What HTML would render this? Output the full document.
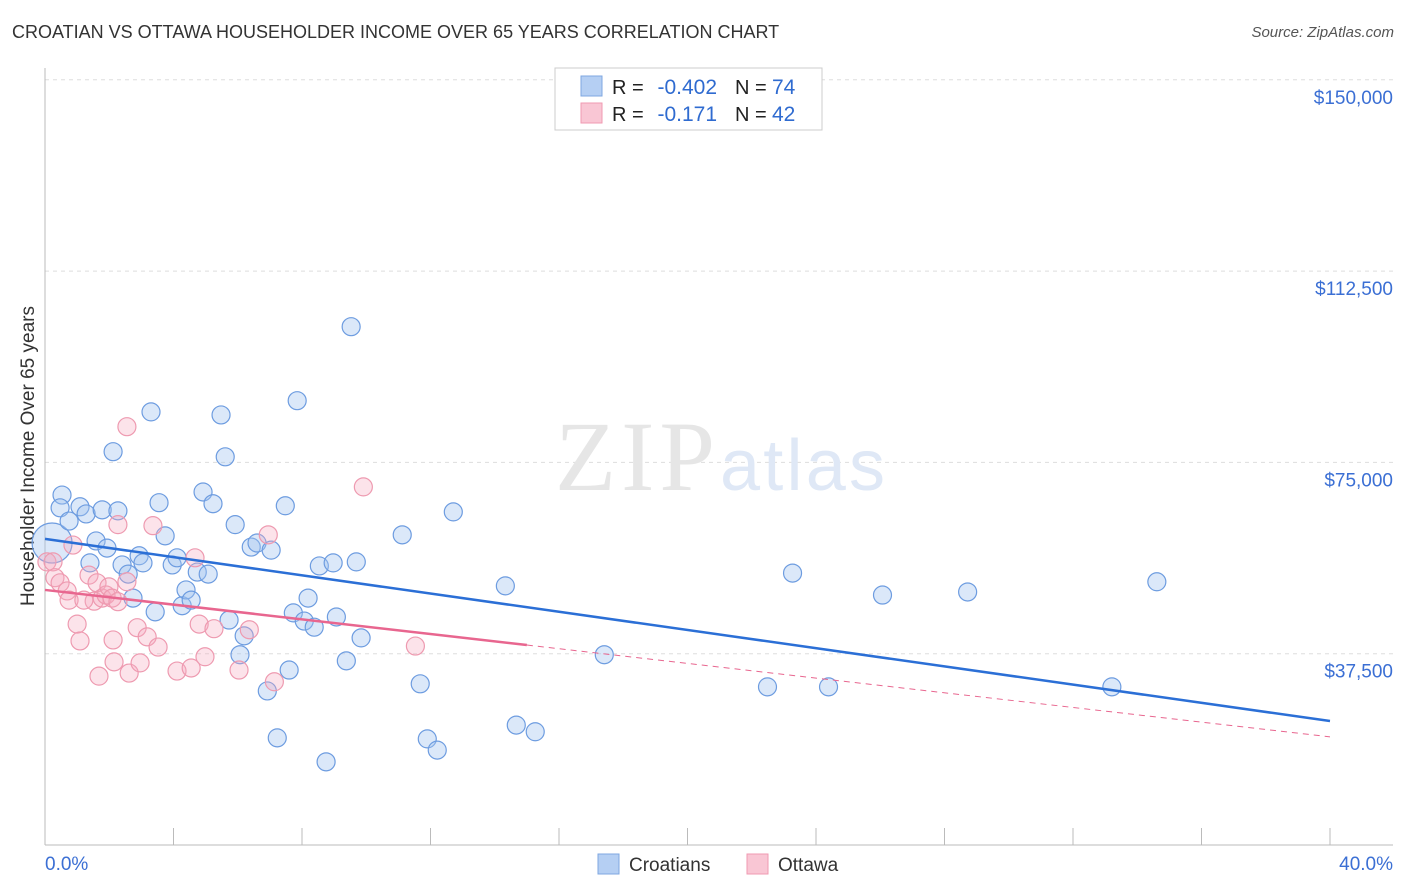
<!DOCTYPE html>
<html><head><meta charset="utf-8"><style>
body{margin:0;background:#fff;font-family:"Liberation Sans",sans-serif}
#wrap{position:relative;width:1406px;height:892px;overflow:hidden}
.t{position:absolute;white-space:nowrap}
</style></head><body>
<div id="wrap">
<div class="t" style="left:12px;top:22px;font-size:18px;color:#333">CROATIAN VS OTTAWA HOUSEHOLDER INCOME OVER 65 YEARS CORRELATION CHART</div>
<div class="t" style="right:12px;top:24px;font-size:15px;color:#555;font-style:italic">Source: ZipAtlas.com</div>
<svg id="svg" width="1406" height="892" style="position:absolute;left:0;top:0"></svg>
</div>
<script>
const blueX=[0.22,0.53,0.47,0.75,1.09,1.28,1.59,1.40,1.78,1.93,2.12,2.27,2.40,2.59,2.74,2.93,3.05,3.30,3.43,3.55,3.74,3.96,4.11,4.27,4.39,4.55,4.74,4.92,5.08,5.23,5.48,5.61,5.73,5.92,6.07,6.20,6.42,6.60,6.92,7.04,7.23,7.48,7.60,7.73,7.85,8.07,8.19,8.38,8.54,8.75,8.97,9.07,9.38,9.53,9.69,9.84,11.12,11.68,11.90,12.21,12.71,14.33,14.67,15.26,17.41,22.49,23.27,24.39,26.07,28.72,33.21,34.61];
const blueY=[59200,68600,66100,63500,66300,64900,59600,55300,65700,58200,77100,65500,54900,53100,48400,56700,55300,84900,45700,67100,60600,54900,56300,46900,50000,48000,53500,69200,53100,66900,84300,76100,44100,62800,37300,41000,58400,59200,30200,57800,21000,66500,34300,45500,87100,43900,48400,42700,54700,16300,55300,44700,36100,101600,55500,40600,60800,31600,20800,18600,65300,50800,23500,22200,37300,31000,53300,31000,49000,49600,31000,51600];
const pinkX=[0.06,0.25,0.31,0.47,0.69,0.75,0.87,1.00,1.09,1.37,1.53,1.62,1.68,1.78,1.90,1.99,2.12,2.15,2.27,2.55,2.62,2.87,2.96,3.18,3.36,3.52,4.11,4.55,4.67,4.80,4.98,5.26,6.04,6.36,6.95,7.14,9.91,11.53,2.09,1.21,2.55,2.27];
const pinkY=[55500,55500,52400,51400,49800,48000,58800,43300,40000,52900,47800,51400,33100,48400,49000,50600,40200,35900,62800,82000,33700,42600,35700,40800,62600,38800,34100,34700,56300,43300,36900,42400,34300,42200,60800,32000,70200,39000,48400,48000,51600,47700];
const yTicks=[150000,112500,75000,37500];
const yTickLabels=["$150,000","$112,500","$75,000","$37,500"];
const blueTrend=[60000,24300];
const pinkTrend=[50000,21200];
const pinkSolidEnd=15;
const NS="http://www.w3.org/2000/svg";
const svg=document.getElementById('svg');
const X=v=>45+v*(1285/40), Y=v=>845-v*(191.3/37500);
function el(tag,at,name){const e=document.createElementNS(NS,tag);for(const k in at)e.setAttribute(k,at[k]);


svg.appendChild(e);return e;}
yTicks.forEach((t,i)=>{
 el('line',{x1:45,x2:1393,y1:Y(t),y2:Y(t),stroke:'#ddd','stroke-dasharray':'4,4'},'gridline');
 const tx=el('text',{x:1393,y:Y(t)+24,'text-anchor':'end','font-size':19,fill:'#3b6fd4'},'y-tick-label');tx.textContent=yTickLabels[i];
});
el('line',{x1:45,x2:45,y1:68,y2:845,stroke:'#bbb'},'y-axis');
el('line',{x1:45,x2:1393,y1:845,y2:845,stroke:'#bbb'},'x-axis');
for(let i=1;i<=10;i++){el('line',{x1:X(i*4),x2:X(i*4),y1:828,y2:845,stroke:'#bbb'},'x-tick');}
let t=el('text',{x:45,y:870,'font-size':19,fill:'#3b6fd4'},'x-min-label');t.textContent='0.0%';
t=el('text',{x:1393,y:870,'text-anchor':'end','font-size':19,fill:'#3b6fd4'},'x-max-label');t.textContent='40.0%';
t=el('text',{x:0,y:0,'font-size':19,fill:'#333',transform:'translate(34,456) rotate(-90)','text-anchor':'middle'},'y-axis-title');t.textContent='Householder Income Over 65 years';
t=el('text',{x:555,y:490,'font-size':100,fill:'#e6e6e6','font-family':'Liberation Serif',textLength:160},'watermark-zip');t.textContent='ZIP';
t=el('text',{x:720,y:490,'font-size':72,fill:'#dfe8f6',textLength:165},'watermark-atlas');t.textContent='atlas';
blueX.forEach((x,i)=>{el('circle',{cx:X(x),cy:Y(blueY[i]),r:i===0?20:9,fill:'rgba(160,195,240,0.38)',stroke:'#6d9ce0','stroke-width':1.2},'croatians-point');});
pinkX.forEach((x,i)=>{el('circle',{cx:X(x),cy:Y(pinkY[i]),r:9,fill:'rgba(245,170,190,0.33)',stroke:'#ee9ab0','stroke-width':1.2},'ottawa-point');});
const pAt=x=>pinkTrend[0]+(pinkTrend[1]-pinkTrend[0])*x/40;
el('line',{x1:X(0),y1:Y(blueTrend[0]),x2:X(40),y2:Y(blueTrend[1]),stroke:'#2b6fd6','stroke-width':2.5},'croatians-trend-line');
el('line',{x1:X(0),y1:Y(pAt(0)),x2:X(pinkSolidEnd),y2:Y(pAt(pinkSolidEnd)),stroke:'#e8668f','stroke-width':2.5},'ottawa-trend-line');
el('line',{x1:X(pinkSolidEnd),y1:Y(pAt(pinkSolidEnd)),x2:X(40),y2:Y(pAt(40)),stroke:'#e8668f','stroke-width':1,'stroke-dasharray':'6,5'},'ottawa-trend-extension');
el('rect',{x:555,y:68,width:267,height:62,fill:'#fff',stroke:'#ccc'},'legend-box');
el('rect',{x:581,y:76,width:21,height:20,fill:'#b5cff3',stroke:'#7fa7e0'},'legend-swatch-croatians');
el('rect',{x:581,y:103,width:21,height:20,fill:'#f9c6d4',stroke:'#f09ab2'},'legend-swatch-ottawa');
const rows=[['R = ','-0.402','N = ','74',94],['R = ','-0.171','N = ','42',121]];
rows.forEach((r,i)=>{
 let a=el('text',{x:612,y:r[4],'font-size':20,fill:'#222'},'legend-r-label');a.textContent=r[0];
 a=el('text',{x:717,y:r[4],'font-size':21,fill:'#2f6bd0','text-anchor':'end'},'legend-r-value');a.textContent=r[1];
 a=el('text',{x:735,y:r[4],'font-size':20,fill:'#222'},'legend-n-label');a.textContent=r[2];
 a=el('text',{x:772,y:r[4],'font-size':21,fill:'#2f6bd0'},'legend-n-value');a.textContent=r[3];
});
el('rect',{x:598,y:854,width:21,height:20,fill:'#b5cff3',stroke:'#7fa7e0'},'bottom-legend-swatch-croatians');
t=el('text',{x:629,y:871,'font-size':19,fill:'#333'},'bottom-legend-croatians');t.textContent='Croatians';
el('rect',{x:747,y:854,width:21,height:20,fill:'#f9c6d4',stroke:'#f09ab2'},'bottom-legend-swatch-ottawa');
t=el('text',{x:778,y:871,'font-size':19,fill:'#333'},'bottom-legend-ottawa');t.textContent='Ottawa';
</script>
</body></html>
